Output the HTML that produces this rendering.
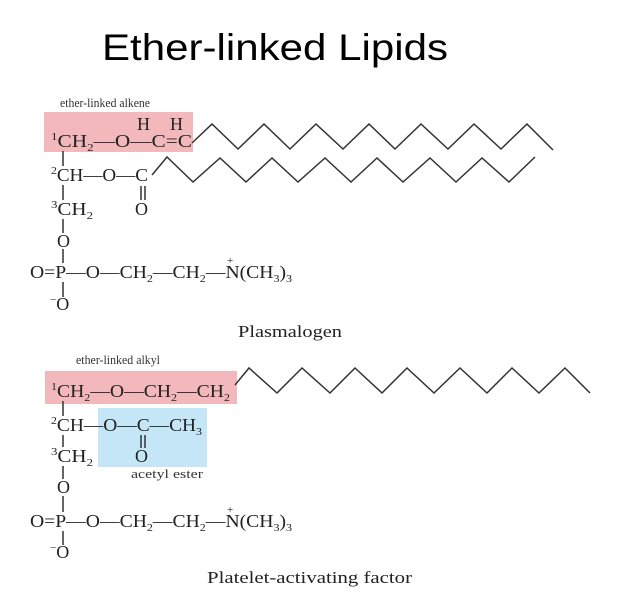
<!DOCTYPE html>
<html><head><meta charset="utf-8"><style>
html,body{margin:0;padding:0;background:#fff;}
svg{display:block}
.m{font-family:"Liberation Serif",serif;font-size:18px;fill:#222}
.s{font-size:11px}
.l{font-family:"Liberation Serif",serif;font-size:13px;fill:#333}
.c{font-family:"Liberation Serif",serif;font-size:17px;fill:#222}
</style></head><body>
<svg width="624" height="603" viewBox="0 0 624 603" xmlns="http://www.w3.org/2000/svg">
<rect width="624" height="603" fill="#fff"/>
<text x="102" y="60" font-family="Liberation Sans, sans-serif" font-size="37" textLength="346" lengthAdjust="spacingAndGlyphs" fill="#000">Ether-linked Lipids</text>

<!-- Plasmalogen -->
<rect x="44" y="112" width="149" height="40" fill="#f2b8bb"/>
<text class="l" x="60" y="107" textLength="90" lengthAdjust="spacingAndGlyphs">ether-linked alkene</text>
<text class="m" x="137" y="130">H</text><text class="m" x="170" y="130">H</text>
<text class="m" x="51" y="147" textLength="141" lengthAdjust="spacingAndGlyphs"><tspan class="s" dy="-7">1</tspan><tspan dy="7">CH</tspan><tspan class="s" dy="4">2</tspan><tspan dy="-4">—O—C=C</tspan></text>
<text class="m" x="51" y="181" textLength="97" lengthAdjust="spacingAndGlyphs"><tspan class="s" dy="-7">2</tspan><tspan dy="7">CH—O—C</tspan></text>
<text class="m" x="51" y="215" textLength="42" lengthAdjust="spacingAndGlyphs"><tspan class="s" dy="-7">3</tspan><tspan dy="7">CH</tspan><tspan class="s" dy="4">2</tspan></text>
<text class="m" x="135" y="215">O</text>
<text class="m" x="57" y="247">O</text>
<text class="m" x="30" y="278" textLength="262" lengthAdjust="spacingAndGlyphs">O=P—O—CH<tspan class="s" dy="4">2</tspan><tspan dy="-4">—CH</tspan><tspan class="s" dy="4">2</tspan><tspan dy="-4">—N(CH</tspan><tspan class="s" dy="4">3</tspan><tspan dy="-4">)</tspan><tspan class="s" dy="4">3</tspan></text>
<text class="s" x="227" y="264" font-family="Liberation Serif,serif" fill="#222">+</text>
<text class="m" x="50" y="310"><tspan class="s" dy="-7">−</tspan><tspan dy="7">O</tspan></text>
<g stroke="#333" stroke-width="1.5" fill="none">
<path d="M63 151V166M63 185V200M63 219V233M63 249V263M63 282V297"/>
<path d="M141 186V200M145 186V200"/>
<path d="M192 143L212 124L238 149L264 124L290 149L316 124L343 149L369 124L395 149L421 124L448 149L474 124L501 149L527 124L553 150"/>
<path d="M152 175L167 157L193 182L220 158L246 182L272 158L298 182L325 158L351 182L377 158L403 182L430 158L456 182L482 158L509 182L535 157"/>
</g>
<text class="c" x="238" y="337" textLength="104" lengthAdjust="spacingAndGlyphs">Plasmalogen</text>

<!-- PAF -->
<rect x="45" y="371" width="192" height="33" fill="#f2b8bb"/>
<rect x="98" y="408" width="109" height="59" fill="#c5e6f7"/>
<text class="l" x="76" y="364" textLength="84" lengthAdjust="spacingAndGlyphs">ether-linked alkyl</text>
<text class="m" x="51" y="397" textLength="179" lengthAdjust="spacingAndGlyphs"><tspan class="s" dy="-7">1</tspan><tspan dy="7">CH</tspan><tspan class="s" dy="4">2</tspan><tspan dy="-4">—O—CH</tspan><tspan class="s" dy="4">2</tspan><tspan dy="-4">—CH</tspan><tspan class="s" dy="4">2</tspan></text>
<text class="m" x="51" y="431" textLength="151" lengthAdjust="spacingAndGlyphs"><tspan class="s" dy="-7">2</tspan><tspan dy="7">CH—O—C—CH</tspan><tspan class="s" dy="4">3</tspan></text>
<text class="m" x="51" y="462" textLength="42" lengthAdjust="spacingAndGlyphs"><tspan class="s" dy="-7">3</tspan><tspan dy="7">CH</tspan><tspan class="s" dy="4">2</tspan></text>
<text class="m" x="135" y="462">O</text>
<text class="l" x="131" y="478" textLength="72" lengthAdjust="spacingAndGlyphs">acetyl ester</text>
<text class="m" x="57" y="493">O</text>
<text class="m" x="30" y="527" textLength="262" lengthAdjust="spacingAndGlyphs">O=P—O—CH<tspan class="s" dy="4">2</tspan><tspan dy="-4">—CH</tspan><tspan class="s" dy="4">2</tspan><tspan dy="-4">—N(CH</tspan><tspan class="s" dy="4">3</tspan><tspan dy="-4">)</tspan><tspan class="s" dy="4">3</tspan></text>
<text class="s" x="227" y="513" font-family="Liberation Serif,serif" fill="#222">+</text>
<text class="m" x="50" y="558"><tspan class="s" dy="-7">−</tspan><tspan dy="7">O</tspan></text>
<g stroke="#333" stroke-width="1.5" fill="none">
<path d="M63 401V416M63 435V447M63 466V479M63 496V512M63 531V545"/>
<path d="M141 435V448M145 435V448"/>
<path d="M235 385L249 368L277 393L302 368L330 393L355 368L382 393L407 368L434 393L460 368L487 393L512 368L539 393L565 368L590 393"/>
</g>
<text class="c" x="207" y="583" textLength="205" lengthAdjust="spacingAndGlyphs">Platelet-activating factor</text>
</svg>
</body></html>
